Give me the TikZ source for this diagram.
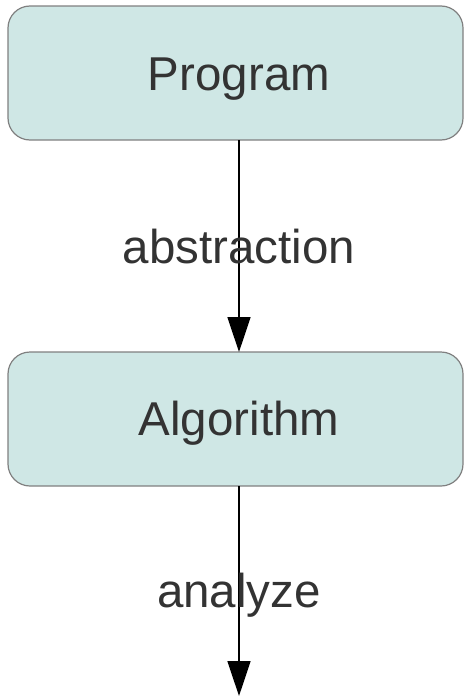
\documentclass[tikz,border=0pt]{standalone}
\usepackage{fontspec}
\setmainfont{Liberation Sans}
\usetikzlibrary{arrows.meta}
\definecolor{boxfill}{HTML}{CFE7E5}
\definecolor{boxline}{HTML}{808080}
\definecolor{txt}{HTML}{333333}
\begin{document}
\begin{tikzpicture}[x=1pt,y=-1pt,
  box/.style={draw=boxline,line width=1.2pt,fill=boxfill,rounded corners=22pt},
  lbl/.style={text=txt,font=\fontsize{47.5}{50}\selectfont,inner sep=0pt,anchor=base},
  conn/.style={line width=1.4pt,-{Triangle[length=35pt,width=23pt]}}]
\useasboundingbox (0,0) rectangle (464,696);
\draw[box] (8,6) rectangle (463,140);
\node[lbl] (program) at (239,90) {Program};
\draw[box] (8,352) rectangle (463,486);
\node[lbl] (algorithm) at (239,435) {Algorithm};
\coordinate (p) at (239,140);
\coordinate (a) at (239,352);
\coordinate (b) at (239,486);
\coordinate (e) at (239,696);
\draw[conn] (p) -- (a);
\draw[conn] (b) -- (e);
\node[lbl] (abs) at (239,263) {abstraction};
\node[lbl] (ana) at (239,607) {analyze};
\end{tikzpicture}
\end{document}
